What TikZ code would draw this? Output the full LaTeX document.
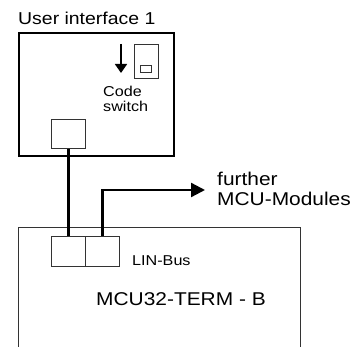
\documentclass[tikz,border=0pt]{standalone}
\usepackage{fontspec}
\setmainfont[FakeStretch=1.13]{Liberation Sans}
\usetikzlibrary{arrows.meta}
\tikzset{
  x=1pt,y=-1pt,
  boxthin/.style={draw=black!80,line width=1pt,inner sep=0pt,anchor=north west},
  boxthick/.style={draw=black,line width=2.4pt,inner sep=0pt,anchor=north west},
  wire/.style={line width=2.3pt,black},
  wirearrow/.style={wire,-{Triangle[length=14pt,width=14pt]}},
  lbl/.style={inner sep=0pt,anchor=west,text=black},
  big/.style={font=\fontsize{18.5}{18.5}\selectfont},
  mid/.style={font=\fontsize{14.3}{14.3}\selectfont}
}
\begin{document}
\begin{tikzpicture}
\useasboundingbox (0,0) rectangle (353,347);
\node[boxthick,minimum width=155pt,minimum height=123pt] (ui) at (18,32) {};
\node[boxthin,minimum width=24pt,minimum height=34pt] (sw) at (134,44) {};
\node[boxthin,minimum width=11pt,minimum height=7pt] (knob) at (140,65) {};
\node[boxthin,minimum width=34pt,minimum height=29.5pt] (conn) at (51,119) {};
% lower module, open at the bottom
\coordinate (mbl) at (18,347);
\coordinate (mtl) at (18,228);
\coordinate (mtr) at (300,228);
\coordinate (mbr) at (300,347);
\draw[black!80,line width=1pt] (mbl) -- (mtl) -- (mtr) -- (mbr);
\node[boxthin,minimum width=34pt,minimum height=30pt] (p1) at (51,236) {};
\node[boxthin,minimum width=34pt,minimum height=30pt] (p2) at (85,236) {};
\coordinate (atop) at (121,44);
\coordinate (abot) at (121,73);
\draw[line width=1.7pt,-{Triangle[length=9pt,width=12pt]}] (atop) -- (abot);
\draw[wire] (conn.south) -- (p1.north);
\coordinate (out) at (205,190);
\draw[wirearrow] (p2.north) |- (out);
\node[lbl,font=\fontsize{17.2}{17.2}\selectfont] (title) at (18,18) {User interface 1};
\node[lbl,mid] (code) at (103,91) {Code};
\node[lbl,mid] (switch) at (103,106) {switch};
\node[lbl,big] (further) at (217,179) {further};
\node[lbl,big] (mods) at (217,199) {MCU-Modules};
\node[lbl,mid] (lin) at (132,261) {LIN-Bus};
\node[lbl,big] (term) at (96,299) {MCU32-TERM - B};
\end{tikzpicture}
\end{document}
